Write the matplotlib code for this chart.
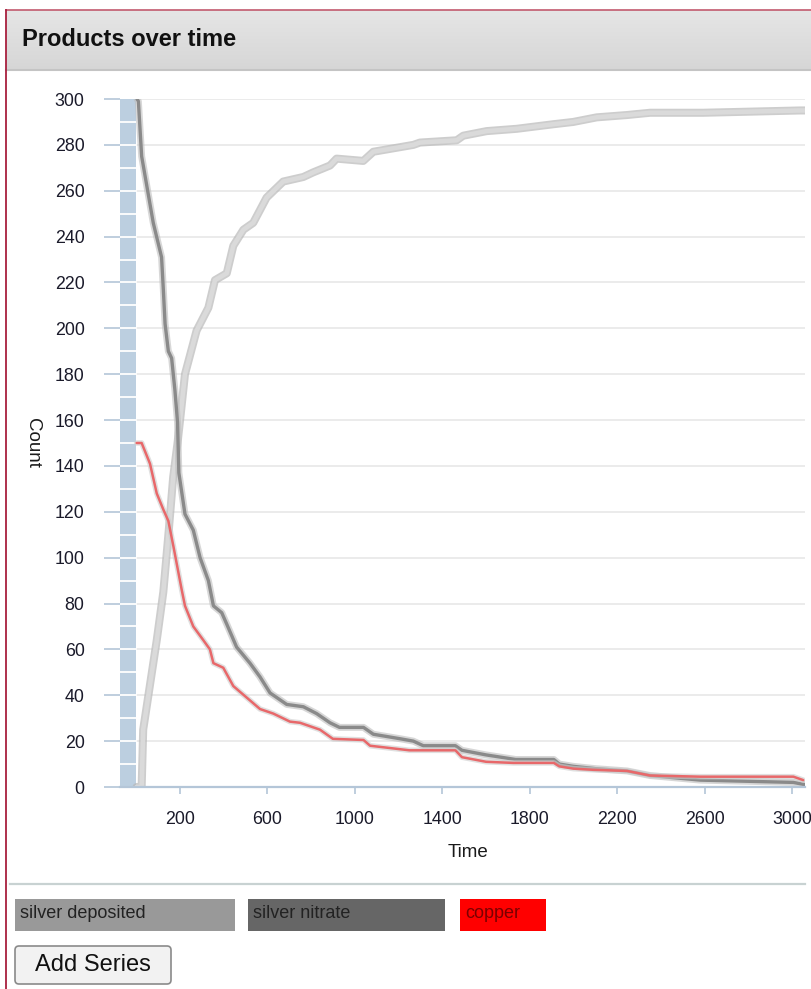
import numpy as np
import matplotlib
matplotlib.use("Agg")
import matplotlib.pyplot as plt
from matplotlib.patches import Rectangle, FancyBboxPatch

plt.rcParams['font.family'] = ['Liberation Sans', 'DejaVu Sans']

# --- data ---
deposited_t = [3, 26, 33, 95, 125, 150, 170, 190, 205, 224, 277, 331, 361, 415, 445,
               491, 536, 597, 673, 765, 810, 887, 917, 1039, 1085, 1268, 1298, 1466,
               1496, 1603, 1740, 1908, 1999, 2106, 2243, 2350, 2593, 3035, 3058]
deposited = [0, 0, 25, 64, 85, 112, 135, 150, 163, 180, 199, 209, 221, 224, 236,
             243, 246, 257, 264, 266, 268, 271, 274, 273, 277, 280, 281, 282,
             284, 286, 287, 289, 290, 292, 293, 294, 294, 295, 295]

nitrate_t = [5, 11, 26, 79, 117, 125, 133, 148, 163, 178, 190, 196, 224, 262, 293,
             331, 354, 392, 415, 460, 521, 567, 613, 689, 765, 826, 887, 930, 1040,
             1085, 1210, 1268, 1313, 1460, 1490, 1600, 1735, 1910, 1935, 2000, 2100,
             2245, 2350, 2580, 3005, 3058]
nitrate = [300, 299, 275, 246, 231, 217, 202, 190, 187, 173, 159, 137, 119, 112, 100,
           90, 79, 76, 71, 61, 54, 48, 41, 36, 35, 32, 28, 26, 26,
           23, 21, 20, 18, 18, 16, 14, 12, 12, 10, 9, 8,
           7, 5, 3, 2, 1]

copper_t = [3, 26, 64, 95, 125, 148, 171, 209, 224, 262, 308, 338, 354, 399, 445,
            506, 567, 628, 704, 750, 841, 900, 1040, 1070, 1250, 1460, 1490, 1600,
            1725, 1910, 1935, 2000, 2090, 2245, 2350, 2580, 3005, 3050]
copper = [150, 150, 141, 128, 121, 116, 105, 86, 79, 70, 64, 60, 54, 52, 44,
          39, 34, 32, 28.5, 28, 25, 21, 20.5, 18, 16, 16, 13, 11,
          10.5, 10.5, 9, 8, 7.5, 7, 5, 4.5, 4.5, 3]

series_names = ['silver deposited', 'silver nitrate', 'copper']
series_colors = ['#999999', '#666666', '#ff0000']
xticks = [200, 600, 1000, 1400, 1800, 2200, 2600, 3000]
yticks = list(range(0, 301, 20))

W, H = 811, 989
fig = plt.figure(figsize=(W / 100, H / 100), dpi=100)
fig.patch.set_facecolor('white')

# page chrome drawn in pixel coordinates
bg = fig.add_axes([0, 0, 1, 1], zorder=0)
bg.set_xlim(0, W)
bg.set_ylim(H, 0)
bg.axis('off')

grad = np.linspace(0.90, 0.84, 60)[:, None, None] * np.ones((60, 2, 3))
bg.imshow(grad, extent=(6, W, 70, 10), aspect='auto', origin='upper', zorder=1)
bg.plot([6, W], [69.5, 69.5], color='#c4c4c4', lw=1.5, zorder=2)
bg.plot([6, W], [10, 10], color='#c25a6e', lw=1.2, zorder=3)
bg.plot([6, 6], [10, H], color='#a8203e', lw=1.3, zorder=3)
bg.text(22, 39, 'Products over time', fontsize=17, fontweight='bold',
        color='#111111', va='center', ha='left', zorder=4)

bg.plot([10, 805], [884, 884], color='#c8d2d2', lw=1.6)

box_x = [15, 248, 460]
box_w = [220, 197, 86]
text_colors = ['#222222', '#222222', '#7a0000']
for name, c, x0, w, tc in zip(series_names, series_colors, box_x, box_w, text_colors):
    bg.add_patch(Rectangle((x0, 899), w, 32, facecolor=c, edgecolor='none'))
    bg.text(x0 + 5, 914, name, fontsize=13, color=tc, va='center', ha='left')

bg.add_patch(FancyBboxPatch((15, 946), 156, 38, boxstyle='round,pad=0,rounding_size=4',
                            facecolor='#f2f2f2', edgecolor='#8a8a8a', lw=1.2))
bg.text(93, 965, 'Add Series', fontsize=17, color='#111111', va='center', ha='center')

# main chart
ax = fig.add_axes([120 / W, 1 - 787 / H, 685 / W, 688 / H], zorder=1)
ax.set_facecolor('white')
ax.set_xlim(-73, 3058)
ax.set_ylim(0, 300)

for v in yticks:
    ax.axhline(v, color='#e8e8e8', lw=1.2, zorder=0)

ax.axvspan(-73, 0, color='#bccfe0', zorder=1, lw=0)
for v in range(10, 300, 10):
    ax.plot([-73, 0], [v, v], color='white', lw=1.3, zorder=1.5)

# silver deposited: light core with soft darker rim
ax.plot(deposited_t, deposited, color='#b8b8b8', lw=5.8, alpha=0.7, zorder=2,
        solid_joinstyle='round', solid_capstyle='round')
ax.plot(deposited_t, deposited, color='#dadada', lw=3.3, zorder=2.1,
        solid_joinstyle='round', solid_capstyle='round')
# silver nitrate
ax.plot(nitrate_t, nitrate, color='#bdbdbd', lw=5.0, alpha=0.6, zorder=2.2,
        solid_joinstyle='round', solid_capstyle='round')
ax.plot(nitrate_t, nitrate, color='#8a8a8a', lw=2.4, zorder=2.3,
        solid_joinstyle='round', solid_capstyle='round')
# copper
ax.plot(copper_t, copper, color='#cccccc', lw=4.0, alpha=0.6, zorder=2.4,
        solid_joinstyle='round', solid_capstyle='round')
ax.plot(copper_t, copper, color='#e8686a', lw=1.8, zorder=2.5,
        solid_joinstyle='round', solid_capstyle='round')

for s in ['top', 'right', 'left']:
    ax.spines[s].set_visible(False)
ax.spines['bottom'].set_color('#b4c6d8')
ax.spines['bottom'].set_linewidth(1.6)

ax.set_xticks(xticks)
ax.set_yticks(yticks)
ax.tick_params(axis='y', length=11.5, width=1.2, color='#b4c6d8', pad=14,
               labelsize=12.8, labelcolor='#1a1a2a')
ax.tick_params(axis='x', length=5, width=1.2, color='#b4c6d8', pad=12,
               labelsize=12.8, labelcolor='#1a1a2a')

ax.set_xlabel('Time', fontsize=13.5, color='#1a1a1a')
ax.xaxis.set_label_coords((468 - 120) / 685, (787 - 844) / 688)
ax.set_ylabel('Count', fontsize=13.5, color='#1a1a1a', rotation=270)
ax.yaxis.label.set_va('center')
ax.yaxis.set_label_coords((32 - 120) / 685, 0.5)

fig.savefig('out.png', dpi=100, facecolor='white')
